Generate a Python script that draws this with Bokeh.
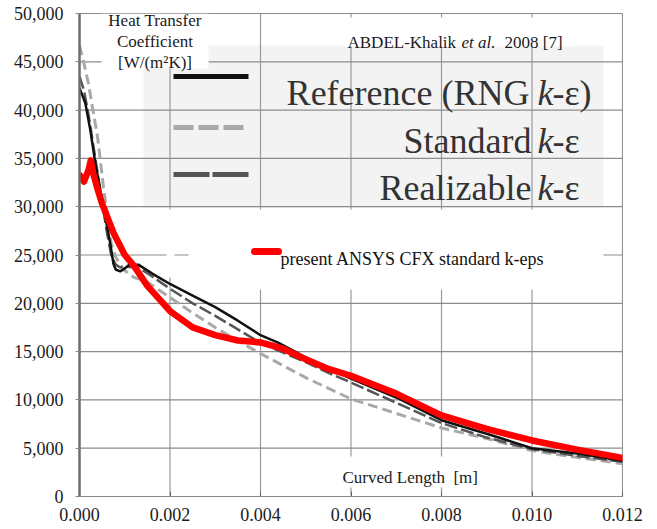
from bokeh.plotting import figure
from bokeh.models import Range1d, FixedTicker, NumeralTickFormatter
from bokeh.core.properties import value
from bokeh.embed import file_html
from bokeh.resources import INLINE

# ---------------- data ----------------
x_ticks = [0.000, 0.002, 0.004, 0.006, 0.008, 0.010, 0.012]
y_ticks = [0, 5000, 10000, 15000, 20000, 25000, 30000, 35000, 40000, 45000, 50000]

ref_x = [0, 0.00013, 0.00024, 0.00035, 0.00046, 0.00057, 0.00068, 0.00075, 0.0008, 0.0009,
         0.001, 0.0011, 0.0013, 0.0016, 0.002, 0.0025, 0.003, 0.0035, 0.004, 0.0044, 0.005,
         0.0055, 0.006, 0.007, 0.008, 0.009, 0.010, 0.011, 0.012]
ref_y = [42300, 40700, 37900, 34500, 31700, 28900, 26200, 24100, 23500, 23300,
         23600, 24000, 24000, 23100, 22000, 20800, 19600, 18200, 16700, 15900, 14400,
         13250, 12200, 10250, 7900, 6500, 5000, 4450, 3700]

std_x = [0, 0.0001, 0.0002, 0.0003, 0.0004, 0.00053, 0.00064, 0.0007, 0.0008, 0.0009, 0.001,
         0.0012, 0.0015, 0.002, 0.0025, 0.003, 0.0035, 0.004, 0.005, 0.006, 0.007, 0.008,
         0.009, 0.010, 0.011, 0.012]
std_y = [46700, 44800, 42700, 39900, 37200, 32000, 28300, 26200, 24800, 24000, 23400,
         22700, 22200, 20600, 19000, 17500, 16100, 14800, 12300, 10100, 8600, 7100,
         6000, 4750, 4050, 3400]

rea_x = [0, 0.0001, 0.0002, 0.0003, 0.0004, 0.0005, 0.0006, 0.0007, 0.0008, 0.0009, 0.001,
         0.0013, 0.0016, 0.002, 0.0025, 0.003, 0.0035, 0.004, 0.0045, 0.005, 0.0055, 0.006,
         0.007, 0.008, 0.009, 0.010, 0.011, 0.012]
rea_y = [43500, 42000, 39500, 36500, 33500, 30500, 27500, 25000, 24000, 23700, 23800,
         23700, 22800, 21500, 20000, 18700, 17300, 15900, 14900, 13900, 12800, 11800,
         9700, 7600, 6100, 4900, 4200, 3600]

cfx_x = [0, 0.0001, 0.0002, 0.00025, 0.0003, 0.0004, 0.0005, 0.00075, 0.001, 0.0012, 0.0015,
         0.002, 0.0025, 0.003, 0.0035, 0.004, 0.0045, 0.005, 0.0055, 0.006, 0.007, 0.008,
         0.009, 0.010, 0.011, 0.012]
cfx_y = [33300, 32600, 33800, 34800, 33500, 31800, 30300, 27300, 25000, 23900, 21800,
         19200, 17500, 16700, 16150, 15950, 15300, 14200, 13200, 12500, 10650, 8400,
         7000, 5800, 4850, 4000]

XMIN, XMAX = 0.0, 0.012
YMIN, YMAX = 0, 50000

# ---------------- layout helpers (page pixels -> data) ----------------
W, H = 657, 529
FL, FR, FT, FB = 79, 622, 13, 496


def X(px):
    return XMIN + (px - FL) / (FR - FL) * (XMAX - XMIN)


def Y(py):
    return YMAX - (py - FT) / (FB - FT) * (YMAX - YMIN)


FONT = "Liberation Serif"

p = figure(width=W, height=H, output_backend="svg", toolbar_location=None,
           x_range=Range1d(XMIN, XMAX), y_range=Range1d(YMIN, YMAX),
           min_border_left=FL, min_border_right=W - FR,
           min_border_top=FT, min_border_bottom=H - FB)
p.background_fill_color = "white"
p.border_fill_color = "white"
p.outline_line_color = "#8a8a8a"
p.outline_line_width = 1

p.xaxis.ticker = FixedTicker(ticks=x_ticks)
p.yaxis.ticker = FixedTicker(ticks=y_ticks)
p.xaxis.formatter = NumeralTickFormatter(format="0.000")
p.yaxis.formatter = NumeralTickFormatter(format="0,0")
for ax in (p.xaxis, p.yaxis):
    ax.major_label_text_font = FONT
    ax.major_label_text_font_size = "18px"
    ax.major_label_text_color = "#1a1a1a"
    ax.minor_tick_line_color = None
p.xaxis.axis_line_color = "#8a8a8a"
p.xaxis.major_tick_in = 5
p.xaxis.major_tick_out = 0
p.xaxis.major_tick_line_color = "#666666"
p.xaxis.major_label_standoff = 11
p.yaxis.axis_line_color = "#6e6e6e"
p.yaxis.axis_line_width = 2.5
p.yaxis.major_tick_out = 4
p.yaxis.major_tick_in = 0
p.yaxis.major_tick_line_color = "#8a8a8a"
p.yaxis.major_label_standoff = 12

p.xgrid.visible = False
p.ygrid.visible = False

# legend image background (light), translucent
p.quad(left=[X(143)], right=[X(603)], top=[Y(45)], bottom=[Y(207)],
       fill_color="#e4e4e4", fill_alpha=0.45, line_color=None)

# grid lines as glyphs, drawn after the backdrop
p.segment(x0=x_ticks, y0=[YMIN] * len(x_ticks), x1=x_ticks, y1=[YMAX] * len(x_ticks),
          line_color="#9a9a9a", line_width=1.2)
p.segment(x0=[XMIN] * len(y_ticks), y0=y_ticks, x1=[XMAX] * len(y_ticks), y1=y_ticks,
          line_color="#8c8c8c", line_width=1.2)

# white boxes behind texts, as glyphs drawn after the grid
box_l = [X(101), X(342), X(188), X(166), X(337)]
box_r = [X(208), X(573), X(603), X(174), X(481)]
box_t = [Y(13), Y(17), Y(209), Y(209), Y(456)]
box_b = [Y(68), Y(46), Y(289), Y(277), Y(487)]
p.quad(left=box_l, right=box_r, top=box_t, bottom=box_b,
       fill_color="white", fill_alpha=1.0, line_color=None)

# ---------------- curves ----------------
p.line(std_x, std_y, line_color="#a9a9a9", line_width=3, line_dash="10 5")
p.line(rea_x, rea_y, line_color="#555555", line_width=2.5, line_dash="13 4")
p.line(ref_x, ref_y, line_color="#111111", line_width=2.5)
p.line(cfx_x, cfx_y, line_color="#ff0000", line_width=6.5, line_cap="round", line_join="round")

# ---------------- legend samples ----------------
p.line([X(173), X(248)], [Y(76), Y(76)], line_color="#111111", line_width=5)
p.line([X(173), X(248)], [Y(127), Y(127)], line_color="#a9a9a9", line_width=5, line_dash="20 5")
p.line([X(173), X(248)], [Y(174), Y(174)], line_color="#555555", line_width=5, line_dash="36 3")
p.line([X(254), X(278)], [Y(251), Y(251)], line_color="#ff0000", line_width=7, line_cap="round")


def lab(txt, px, py, size, align="left", style="normal", color="#1a1a1a"):
    p.text(x=[X(px)], y=[Y(py)], text=[txt], text_font=value(FONT),
           text_font_size=value(size), text_align=align, text_baseline="alphabetic",
           text_font_style=style, text_color=color)


# big legend labels
BIG = "36px"
GC = "#333333"
lab("Reference (RNG", 529, 92, BIG, "right", color=GC)
lab("k", 537, 92, BIG, "left", "italic", GC)
lab("-\u03b5)", 552, 92, BIG, "left", color=GC)
lab("Standard", 531, 140, BIG, "right", color=GC)
lab("k", 537, 140, BIG, "left", "italic", GC)
lab("-\u03b5", 552, 140, BIG, "left", color=GC)
lab("Realizable", 531, 187, BIG, "right", color=GC)
lab("k", 537, 187, BIG, "left", "italic", GC)
lab("-\u03b5", 552, 187, BIG, "left", color=GC)

# small texts
lab("Heat Transfer", 154.5, 20, "17px", "center")
lab("Coefficient", 154.5, 41, "17px", "center")
lab("[W/(m\u00b2K)]", 154.5, 62, "17px", "center")

lab("ABDEL-Khalik", 347, 42, "17px", "left")
lab("et al.", 461, 42, "17px", "left", "italic")
lab("2008 [7]", 504, 42, "17px", "left")

lab("present ANSYS CFX standard k-eps", 280, 258, "18px", "left", color="#111111")
lab("Curved Length\u00a0 [m]", 342, 477, "17px", "left")

open("out.html", "w").write(file_html(p, INLINE))
